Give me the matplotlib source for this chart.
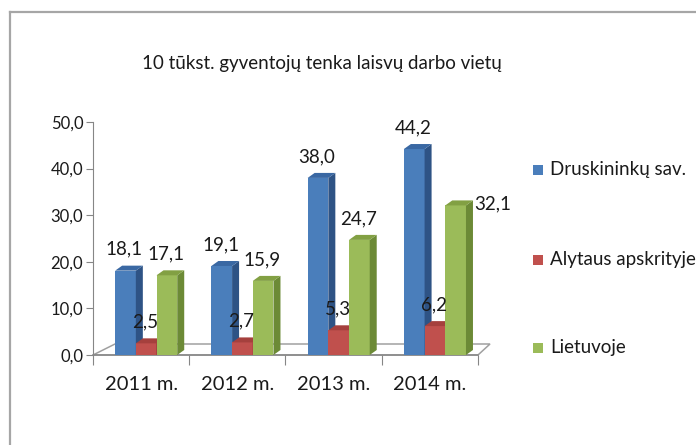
import matplotlib
matplotlib.use("Agg")
import matplotlib.pyplot as plt
from matplotlib.patches import Polygon, Rectangle
from matplotlib.lines import Line2D

plt.rcParams['font.family'] = ['Lato', 'DejaVu Sans']

title = "10 tūkst. gyventojų tenka laisvų darbo vietų"
categories = ["2011 m.", "2012 m.", "2013 m.", "2014 m."]
series_names = ["Druskininkų sav.", "Alytaus apskrityje", "Lietuvoje"]
druskininku = [18.1, 19.1, 38.0, 44.2]
alytaus = [2.5, 2.7, 5.3, 6.2]
lietuvoje = [17.1, 15.9, 24.7, 32.1]
series = [druskininku, alytaus, lietuvoje]
yticks = [0, 10, 20, 30, 40, 50]

front_c = ['#4A7EBB', '#C0504D', '#9BBB59']
side_c = ['#2E5385', '#8A3432', '#6C8A36']
top_c = ['#3A68A3', '#A5403D', '#82A043']

W, H = 696, 445
fig = plt.figure(figsize=(W / 100, H / 100), dpi=100)

# chart border
fig.add_artist(Line2D([9.5 / W, 9.5 / W], [0, 1 - 12 / H], transform=fig.transFigure, color='#a6a6a6', lw=1.6))
fig.add_artist(Line2D([9.5 / W, 1], [1 - 12 / H, 1 - 12 / H], transform=fig.transFigure, color='#a6a6a6', lw=1.6))

ax_l, ax_r, ax_b, ax_t = 93, 478, 355, 122
ax = fig.add_axes([ax_l / W, 1 - ax_b / H, (ax_r - ax_l) / W, (ax_b - ax_t) / H])
ax.set_xlim(0, 4)
ax.set_ylim(0, 50)
for s in ['top', 'right', 'bottom']:
    ax.spines[s].set_visible(False)
ax.spines['left'].set_color('#868686')
ax.spines['left'].set_bounds(0, 50)

ax.set_yticks(yticks)
ax.set_yticklabels([f"{v:.1f}".replace('.', ',') for v in yticks], fontsize=12, color='#1a1a1a')
ax.tick_params(axis='y', length=5, color='#868686', pad=2)
ax.set_xticks([0, 1, 2, 3, 4])
ax.set_xticklabels([])
ax.tick_params(axis='x', length=7, color='#868686', direction='out')
ax.set_xticks([i + 0.5 for i in range(len(categories))], minor=True)
ax.set_xticklabels(categories, minor=True, fontsize=14.5, color='#1a1a1a')
ax.tick_params(axis='x', which='minor', length=0, pad=15)

# floor (axes fraction coords)
fw = ax_r - ax_l
fh = ax_b - ax_t
floor = Polygon([(0, 0), (1, 0), (1 + 12 / fw, 11 / fh), (22 / fw, 11 / fh)], closed=True,
                facecolor='none', edgecolor='#a0a0a0', lw=1.1, transform=ax.transAxes, clip_on=False, zorder=1)
ax.add_patch(floor)
ax.plot([0, 1], [0, 0], transform=ax.transAxes, color='#868686', lw=1.1, clip_on=False, zorder=1)

bw = 0.215
offs = [0.23, 0.445, 0.66]
dx = 7 / 96.25
dy = 5 / (fh / 50)

label_shift = {(2, 3): (38, -20)}

for si, vals in enumerate(series):
    for ci, v in enumerate(vals):
        x0 = ci + offs[si]
        z = 2 + ci * 3 + si
        ax.add_patch(Rectangle((x0, 0), bw, v, facecolor=front_c[si], edgecolor='none', zorder=z))
        ax.add_patch(Polygon([(x0 + bw, 0), (x0 + bw + dx, dy), (x0 + bw + dx, v + dy), (x0 + bw, v)],
                             closed=True, facecolor=side_c[si], edgecolor='none', zorder=z))
        ax.add_patch(Polygon([(x0, v), (x0 + dx, v + dy), (x0 + bw + dx, v + dy), (x0 + bw, v)],
                             closed=True, facecolor=top_c[si], edgecolor='none', zorder=z))
        sx, sy = label_shift.get((si, ci), (0, 0))
        ax.annotate(f"{v:.1f}".replace('.', ','), (x0 + bw / 2, v), xytext=(sx - 1, 13 + sy),
                    textcoords='offset pixels', ha='center', va='bottom', fontsize=13.5,
                    color='#1a1a1a', zorder=30, annotation_clip=False)

fig.text(322 / W, 1 - 64 / H, title, ha='center', va='center', fontsize=13.5, color='#1a1a1a')

# legend
rows = [170, 260, 348]
for si, name in enumerate(series_names):
    yc = rows[si]
    fig.add_artist(Rectangle((533 / W, 1 - (yc + 5) / H), 10 / W, 10 / H, transform=fig.transFigure,
                             facecolor=front_c[si], edgecolor='none'))
    fig.text(550 / W, 1 - yc / H, name, ha='left', va='center', fontsize=13.5, color='#1a1a1a')

fig.savefig('out.png', dpi=100, facecolor='white')
